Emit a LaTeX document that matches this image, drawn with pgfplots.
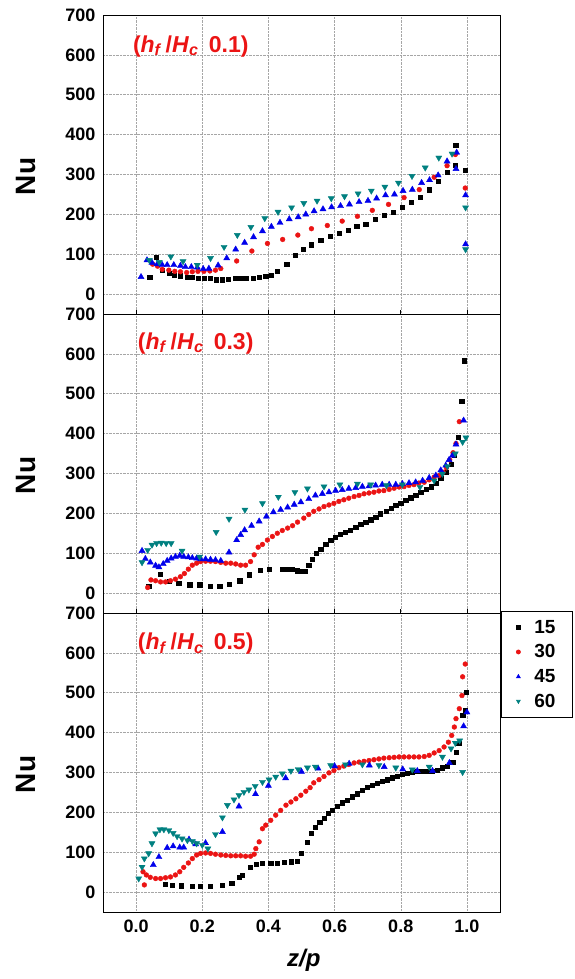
\documentclass[border=0pt]{standalone}
\usepackage{fontspec}
\setmainfont{Liberation Sans}
\usepackage{pgfplots}
\pgfplotsset{compat=1.18}
\definecolor{cRed}{RGB}{235,20,20}
\definecolor{cBlue}{RGB}{0,0,235}
\definecolor{cTeal}{RGB}{0,128,128}
\newcommand{\tfont}{\fontsize{18}{20}\selectfont\bfseries}
\pgfplotsset{
  panel/.style={
    scale only axis, width=397pt, height=299pt,
    xmin=-0.1, xmax=1.1, ymin=-50, ymax=700,
    xtick={0,0.2,0.4,0.6,0.8,1.0},
    ytick={0,100,200,300,400,500,600,700},
    grid=major, grid style={densely dotted, gray!70, line width=0.5pt},
    axis line style={line width=0.8pt},
    /pgf/number format/assume math mode=true,
    ticklabel style={font=\tfont},
    ytick style={draw=none},
    tick align=outside,
    xtick style={black, line width=0.8pt},
    major tick length=4pt,
    ylabel={Nu},
    ylabel style={font=\fontsize{28}{30}\selectfont\bfseries, at={(axis description cs:-0.194,0.46)}, anchor=center},
  },
  s15/.style={only marks, mark=square*, mark size=2.1pt, mark options={fill=black, draw=black}},
  s30/.style={only marks, mark=*, mark size=2.4pt, mark options={fill=cRed, draw=cRed}},
  s45/.style={only marks, mark=triangle*, mark size=3.5pt, mark options={fill=cBlue, draw=cBlue}},
  s60/.style={only marks, mark=triangle*, mark size=3.5pt, mark options={fill=cTeal, draw=cTeal, rotate=180}},
}
\newcommand{\plab}[1]{\textcolor{cRed}{\fontsize{23}{25}\selectfont\bfseries(\textit{h}\textsubscript{\textit{f}}\,/\textit{H}\textsubscript{\textit{c}}\, #1)}}
\begin{document}
\begin{tikzpicture}
\path (0,0) rectangle (575pt,-979pt);
% ---------------- top panel ----------------
\begin{axis}[panel, at={(103pt,-15pt)}, anchor=north west,
  xticklabels={}, xtick style={draw=none}]
\addplot[s15] coordinates {(0.041,42)(0.06,92)(0.08,60)(0.1,52)(0.115,48)(0.134,46)(0.155,42)(0.17,42)(0.187,40)(0.207,39)(0.225,39)(0.243,36)(0.26,36)(0.279,37)(0.3,39)(0.316,40)(0.334,40)(0.354,40)(0.372,42)(0.392,44)(0.409,48)(0.427,57)(0.455,75)(0.48,98)(0.506,113)(0.53,124)(0.558,136)(0.586,145)(0.613,153)(0.64,161)(0.667,170)(0.694,176)(0.722,187)(0.749,197)(0.778,206)(0.805,218)(0.832,231)(0.858,242)(0.885,262)(0.913,284)(0.94,306)(0.965,323)(0.966,373)(0.995,310)};
\addplot[s30] coordinates {(0.05,75)(0.065,70)(0.079,62)(0.099,60)(0.117,57)(0.134,56)(0.153,54)(0.17,56)(0.187,57)(0.205,57)(0.223,58)(0.24,60)(0.256,64)(0.304,83)(0.35,108)(0.397,127)(0.443,137)(0.489,148)(0.53,164)(0.578,172)(0.623,183)(0.669,195)(0.714,210)(0.763,225)(0.81,242)(0.856,262)(0.901,293)(0.94,322)(0.965,350)(0.995,266)};
\addplot[s45] coordinates {(0.015,43)(0.033,85)(0.048,79)(0.064,75)(0.079,73)(0.094,73)(0.114,73)(0.134,71)(0.149,68)(0.167,68)(0.185,67)(0.203,63)(0.22,64)(0.248,72)(0.274,90)(0.301,112)(0.328,129)(0.355,143)(0.382,158)(0.409,169)(0.435,179)(0.463,188)(0.49,193)(0.513,200)(0.538,208)(0.565,213)(0.591,218)(0.618,221)(0.645,225)(0.674,231)(0.701,234)(0.727,240)(0.754,248)(0.781,250)(0.807,259)(0.835,262)(0.863,279)(0.887,286)(0.913,298)(0.94,333)(0.967,314)(0.969,355)(0.996,248)(0.996,125)};
\addplot[s60] coordinates {(0.04,85)(0.07,80)(0.105,94)(0.142,82)(0.185,73)(0.225,90)(0.266,118)(0.306,148)(0.347,168)(0.389,190)(0.429,206)(0.47,217)(0.507,228)(0.547,234)(0.59,240)(0.63,245)(0.671,252)(0.711,259)(0.752,269)(0.793,279)(0.834,296)(0.874,317)(0.915,342)(0.955,352)(0.996,217)(0.996,112)};
\node[anchor=west] at (axis cs:-0.02,622) {\plab{0.1}};
\end{axis}
% ---------------- middle panel ----------------
\begin{axis}[panel, at={(103pt,-314pt)}, anchor=north west,
  xticklabels={}, xtick pos=upper]
\addplot[s15] coordinates {(0.038,18)(0.072,48)(0.1,30)(0.129,25)(0.162,21)(0.192,21)(0.223,18)(0.253,18)(0.281,23)(0.313,31)(0.343,46)(0.375,58)(0.402,60)(0.442,60)(0.458,60)(0.473,59)(0.488,56)(0.5,54)(0.512,54)(0.522,69)(0.532,85)(0.545,100)(0.558,111)(0.573,122)(0.588,132)(0.603,140)(0.618,147)(0.633,153)(0.648,158)(0.664,165)(0.679,172)(0.694,178)(0.709,184)(0.724,190)(0.739,199)(0.755,205)(0.77,213)(0.785,220)(0.8,225)(0.815,232)(0.83,239)(0.845,245)(0.86,253)(0.876,260)(0.891,267)(0.906,276)(0.921,289)(0.936,303)(0.952,323)(0.962,345)(0.974,390)(0.984,481)(0.991,583)};
\addplot[s30] coordinates {(0.035,14)(0.045,33)(0.059,31)(0.074,28)(0.089,28)(0.104,31)(0.119,35)(0.134,41)(0.146,49)(0.158,60)(0.17,70)(0.183,75)(0.195,79)(0.21,80)(0.225,80)(0.24,79)(0.256,77)(0.271,75)(0.286,75)(0.301,73)(0.316,70)(0.331,70)(0.346,79)(0.357,96)(0.369,115)(0.382,122)(0.397,133)(0.412,142)(0.427,150)(0.442,157)(0.458,163)(0.473,169)(0.488,178)(0.507,188)(0.522,197)(0.537,205)(0.553,211)(0.568,217)(0.583,221)(0.598,225)(0.613,230)(0.628,234)(0.643,238)(0.659,242)(0.674,245)(0.689,249)(0.704,251)(0.719,253)(0.734,256)(0.749,257)(0.765,260)(0.78,263)(0.795,266)(0.81,267)(0.825,270)(0.84,272)(0.855,276)(0.871,278)(0.886,284)(0.901,291)(0.916,295)(0.928,303)(0.938,314)(0.948,334)(0.958,352)(0.967,375)(0.977,430)};
\addplot[s45] coordinates {(0.018,106)(0.028,86)(0.043,77)(0.059,69)(0.069,65)(0.082,73)(0.094,81)(0.106,87)(0.119,91)(0.132,94)(0.144,91)(0.158,90)(0.17,88)(0.183,87)(0.195,85)(0.21,85)(0.225,84)(0.24,83)(0.256,81)(0.281,102)(0.304,133)(0.316,146)(0.328,158)(0.349,169)(0.372,180)(0.394,192)(0.415,203)(0.437,209)(0.458,215)(0.478,222)(0.498,228)(0.522,236)(0.542,245)(0.563,249)(0.583,253)(0.603,257)(0.623,259)(0.643,262)(0.664,264)(0.684,267)(0.704,268)(0.724,270)(0.744,272)(0.765,272)(0.785,272)(0.805,274)(0.825,276)(0.845,278)(0.866,282)(0.886,289)(0.906,295)(0.921,308)(0.936,320)(0.946,334)(0.956,345)(0.967,373)(0.99,433)};
\addplot[s60] coordinates {(0.018,77)(0.035,108)(0.048,121)(0.062,125)(0.076,126)(0.091,125)(0.106,125)(0.139,106)(0.192,91)(0.242,153)(0.281,186)(0.329,209)(0.382,225)(0.43,241)(0.48,253)(0.518,262)(0.568,267)(0.616,272)(0.669,274)(0.709,272)(0.757,270)(0.805,272)(0.858,266)(0.901,282)(0.926,299)(0.941,318)(0.965,350)(0.987,379)(0.997,390)};
\node[anchor=west] at (axis cs:-0.005,627) {\plab{0.3}};
\end{axis}
% ---------------- bottom panel ----------------
\begin{axis}[panel, at={(103pt,-613pt)}, anchor=north west,
  xtick pos=upper, xticklabel pos=lower,
  xticklabels={0.0,0.2,0.4,0.6,0.8,1.0},
  xlabel={\textit{z/p}},
  xlabel style={font=\fontsize{24}{26}\selectfont\bfseries, at={(axis description cs:0.506,-0.163)}, anchor=center},
  legend style={at={(1.0025,1.008)}, anchor=north west, font=\fontsize{19}{21}\selectfont\bfseries, draw=black, line width=0.8pt, cells={anchor=west}, row sep=6pt, inner xsep=15pt, inner ysep=7pt,
    /tikz/every odd column/.append style={column sep=12pt}},
  legend image code/.code={\draw[#1, mark size=2pt] plot coordinates {(0.3cm,0cm)};}]
\addplot[s15] coordinates {(0.089,20)(0.109,18)(0.137,16)(0.17,14)(0.195,14)(0.223,14)(0.261,18)(0.289,23)(0.311,38)(0.321,43)(0.346,63)(0.362,69)(0.382,72)(0.407,73)(0.427,73)(0.447,75)(0.468,76)(0.488,78)(0.5,98)(0.518,125)(0.53,148)(0.542,163)(0.555,176)(0.568,186)(0.581,197)(0.593,205)(0.608,215)(0.623,224)(0.638,230)(0.654,239)(0.669,247)(0.684,255)(0.699,264)(0.714,269)(0.729,274)(0.744,278)(0.759,282)(0.775,287)(0.79,291)(0.805,295)(0.82,299)(0.835,301)(0.851,303)(0.866,304)(0.881,304)(0.896,304)(0.911,305)(0.926,312)(0.941,316)(0.957,326)(0.967,351)(0.975,374)(0.987,443)(0.994,457)(0.999,501)};
\addlegendentry{15}
\addplot[s30] coordinates {(0.025,18)(0.021,51)(0.031,43)(0.043,37)(0.059,34)(0.074,34)(0.089,36)(0.104,38)(0.119,43)(0.132,51)(0.144,62)(0.158,73)(0.17,84)(0.183,93)(0.195,97)(0.21,98)(0.225,97)(0.24,95)(0.256,93)(0.271,92)(0.286,91)(0.301,91)(0.316,91)(0.331,90)(0.346,90)(0.357,95)(0.362,109)(0.372,126)(0.382,159)(0.392,168)(0.407,180)(0.422,193)(0.437,205)(0.453,218)(0.468,226)(0.483,234)(0.498,243)(0.513,253)(0.526,262)(0.537,274)(0.553,282)(0.568,290)(0.583,299)(0.598,305)(0.613,312)(0.628,316)(0.643,320)(0.659,324)(0.674,326)(0.689,328)(0.704,330)(0.719,332)(0.734,334)(0.749,336)(0.765,337)(0.78,338)(0.795,339)(0.81,339)(0.825,339)(0.84,339)(0.855,339)(0.871,340)(0.886,343)(0.901,349)(0.916,355)(0.931,364)(0.944,376)(0.954,393)(0.962,414)(0.967,435)(0.977,460)(0.985,493)(0.987,540)(0.995,572)};
\addlegendentry{30}
\addplot[s45] coordinates {(0.052,68)(0.069,88)(0.094,111)(0.112,115)(0.132,112)(0.144,112)(0.16,132)(0.18,120)(0.21,123)(0.261,151)(0.311,215)(0.361,246)(0.4,267)(0.452,286)(0.5,302)(0.55,310)(0.6,316)(0.644,322)(0.705,318)(0.75,314)(0.806,308)(0.85,304)(0.896,304)(0.947,324)(0.99,416)(1.0,451)};
\addlegendentry{45}
\addplot[s60] coordinates {(0.008,34)(0.018,63)(0.025,84)(0.038,97)(0.048,122)(0.059,147)(0.072,157)(0.084,157)(0.099,155)(0.112,148)(0.124,140)(0.139,134)(0.155,130)(0.17,128)(0.183,122)(0.2,118)(0.217,109)(0.24,145)(0.261,187)(0.276,218)(0.296,232)(0.311,243)(0.326,251)(0.341,257)(0.36,266)(0.382,276)(0.402,282)(0.422,289)(0.442,297)(0.468,304)(0.49,308)(0.518,312)(0.542,314)(0.588,318)(0.633,320)(0.684,320)(0.734,318)(0.785,312)(0.835,307)(0.886,314)(0.926,339)(0.952,360)(0.965,374)(0.978,380)(0.987,301)};
\addlegendentry{60}
\node[anchor=west] at (axis cs:-0.005,623) {\plab{0.5}};
\end{axis}
\end{tikzpicture}
\end{document}
